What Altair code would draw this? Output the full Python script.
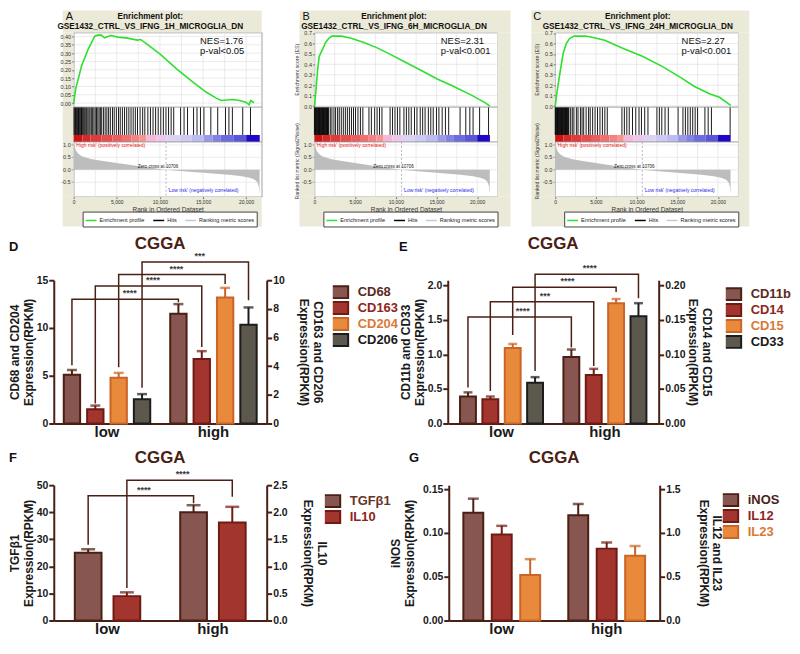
import altair as alt
import pandas as pd

FONT = "Liberation Sans"
BEIGE = "#ebe9d8"
GRID = "#dedede"
AX = "#4a2014"

# ---------------- GSEA data ----------------
rank_ticks = [0, 2500, 5000, 7500, 10000, 12500, 15000, 17500, 20000, 22500]
rk_ticks = [1.0, 0.5, 0.0, -0.5]
rk_labels = ["1.0", "0.5", "0.0", "-0.5"]
zero_cross = 10706
metric_rank = [0, 100, 300, 600, 1000, 2000, 3000, 4000, 5000, 6000, 7000, 8000, 9000, 10000,
               10706, 12000, 13500, 15000, 16500, 18000, 19500, 20500, 21000, 21300, 21450, 21550]
metric_val = [1.1, 0.95, 0.75, 0.62, 0.53, 0.43, 0.37, 0.32, 0.27, 0.22, 0.17, 0.13, 0.08, 0.03,
              0.0, -0.04, -0.08, -0.12, -0.16, -0.2, -0.26, -0.33, -0.4, -0.5, -0.65, -0.95]
seg_start = [0, 1000, 1960, 3200, 4510, 5600, 6670, 7600, 8430, 9600, 10780, 12350, 13700,
             15100, 16100, 17060, 18500, 20000]
seg_end = [1000, 1960, 3200, 4510, 5600, 6670, 7600, 8430, 9600, 10780, 12350, 13700, 15100,
           16100, 17060, 18500, 20000, 21570]
seg_color = ["#cc1414", "#d82828", "#e03a3a", "#e64c4c", "#ec5e5e", "#f07070", "#f48282", "#f69494",
             "#f4b8d8", "#eec6ea", "#dcd2f2", "#cccaf2", "#bcbcf0", "#9a9ae8", "#8282e4", "#6c6cde",
             "#5a56da", "#2008c8"]
legend_series = ["Enrichment profile", "Hits", "Ranking metric scores"]
legend_colors = ["#2ee02e", "#000000", "#c8c8c8"]

A_name = "GSE1432_CTRL_VS_IFNG_1H_MICROGLIA_DN"
A_stats = ["NES=1.76", "p-val<0.05"]
A_es_rank = [0, 250, 533, 914, 1295, 1676, 2057, 2438, 2819, 3200, 3581, 3960, 4343, 5105, 6248,
             7390, 7770, 8533, 10057, 11962, 13867, 15390, 16533, 17105, 18438, 19200, 19962,
             20343, 20533, 20914]
A_es_val = [0.0, 0.09, 0.145, 0.224, 0.273, 0.323, 0.362, 0.402, 0.408, 0.408, 0.392, 0.400, 0.406,
            0.396, 0.390, 0.378, 0.382, 0.352, 0.293, 0.204, 0.125, 0.065, 0.030, 0.016, 0.022,
            0.016, 0.006, -0.010, 0.016, 0.002]
A_hits = [40, 130, 220, 310, 400, 480, 560, 650, 740, 830, 910, 1000, 1100, 1200, 1300, 1420, 1520,
          1650, 1780, 1900, 2050, 2200, 2350, 2500, 2650, 2800, 2950, 3100, 3250, 3450, 3650, 3850,
          4050, 4250, 4500, 4700, 4950, 5200, 5400, 5650, 5900, 6150, 6400, 6650, 6900, 7150, 7400,
          7700, 8000, 8250, 8600, 8900, 9200, 9500, 9800, 10100, 10400, 10700, 11000, 11300, 11600,
          12400, 12800, 13200, 13900, 14300, 14700, 15100, 15900, 16700, 17600, 18000, 18400,
          19600, 20500]

B_name = "GSE1432_CTRL_VS_IFNG_6H_MICROGLIA_DN"
B_stats = ["NES=2.31", "p-val<0.001"]
B_es_rank = [0, 196, 392, 588, 784, 980, 1373, 1765, 2157, 2549, 3333, 4510, 6078, 7647, 9216,
             11176, 13137, 15098, 17059, 19412, 21000, 21569]
B_es_val = [0.0, 0.16, 0.35, 0.475, 0.51, 0.54, 0.61, 0.65, 0.67, 0.672, 0.67, 0.65, 0.61, 0.56,
            0.50, 0.42, 0.34, 0.26, 0.19, 0.10, 0.03, 0.0]
B_hits = [0, 70, 140, 210, 280, 350, 420, 490, 560, 630, 700, 770, 840, 910, 980, 1050, 1120, 1190,
          1260, 1330, 1400, 1470, 1540, 1610, 1680, 1750, 1950, 2150, 2400, 2600, 2850, 3050, 3300,
          3550, 3800, 4050, 4300, 4550, 4800, 5050, 5350, 5650, 5950, 6700, 7000, 7400, 7700, 8000,
          8300, 9300, 9600, 9900, 10200, 10500, 11000, 11300, 11600, 11900, 12300, 12600, 13000,
          13300, 13600, 14000, 14300, 14600, 15000, 15300, 15700, 16100, 16500, 17900, 18600,
          19100, 19500, 20300, 21400]

C_name = "GSE1432_CTRL_VS_IFNG_24H_MICROGLIA_DN"
C_stats = ["NES=2.27", "p-val<0.001"]
C_es_rank = [0, 250, 588, 980, 1373, 1765, 2353, 3725, 4510, 6078, 8431, 10784, 13137, 15490,
             17059, 19020, 20196, 21565]
C_es_val = [0.0, 0.15, 0.32, 0.506, 0.60, 0.647, 0.67, 0.672, 0.66, 0.63, 0.55, 0.475, 0.38, 0.27,
            0.19, 0.116, 0.084, 0.006]
C_hits = [0, 70, 140, 210, 280, 350, 420, 490, 560, 630, 700, 770, 840, 910, 980, 1050, 1120, 1190,
          1260, 1330, 1400, 1470, 1540, 1610, 1680, 1900, 2100, 2300, 2600, 2800, 3100, 3300, 3500,
          3800, 4100, 4300, 4600, 4900, 5200, 5500, 5800, 6100, 6400, 8200, 8500, 8800, 9100, 9500,
          9900, 10300, 10600, 11000, 11400, 12500, 12800, 13100, 13500, 13900, 15100, 15700, 16000,
          16300, 16600, 16900, 17200, 17500, 18400, 18800, 19200, 21500]

# ---------------- CGGA bar data ----------------
groups = ["low", "high"]

D_markers = ["CD68", "CD163", "CD204", "CD206"]
D_side = ["L", "R", "L", "R"]
D_low = [5.1, 1.0, 4.8, 1.7]
D_low_err = [0.5, 0.25, 0.5, 0.35]
D_high = [11.5, 4.5, 13.2, 6.9]
D_high_err = [1.0, 0.55, 1.0, 1.2]
D_br_low = [6.1, 2.1, 5.9, 3.75]
D_br_level = [13.0, 14.4, 15.6, 16.9]
D_br_high = [12.7, 8.0, 14.6, 12.9]
D_br_label = ["****", "****", "****", "***"]

E_markers = ["CD11b", "CD14", "CD15", "CD33"]
E_side = ["L", "R", "R", "L"]
E_low = [0.39, 0.035, 0.109, 0.59]
E_low_err = [0.06, 0.004, 0.006, 0.08]
E_high = [0.96, 0.070, 0.174, 1.55]
E_high_err = [0.11, 0.009, 0.006, 0.19]
E_br_low = [0.52, 0.47, 1.28, 0.76]
E_br_level = [1.54, 1.76, 1.97, 2.16]
E_br_high = [1.1, 0.83, 1.90, 1.81]
E_br_label = ["****", "***", "****", "****"]

F_markers = ["TGFβ1", "IL10"]
F_side = ["L", "R"]
F_low = [25.0, 0.45]
F_low_err = [1.3, 0.07]
F_high = [40.0, 1.81]
F_high_err = [2.6, 0.29]
F_br_low = [28.0, 12.0]
F_br_level = [46.1, 51.8]
F_br_high = [43.3, 45.7]
F_br_label = ["****", "****"]

G_markers = ["iNOS", "IL12", "IL23"]
G_side = ["L", "R", "R"]
G_low = [0.123, 0.98, 0.52]
G_low_err = [0.016, 0.10, 0.18]
G_high = [0.120, 0.82, 0.74]
G_high_err = [0.013, 0.07, 0.11]

FILL4 = ["#875650", "#a3352f", "#e8893c", "#5c584d"]
STROKE4 = ["#4b1f12", "#701a14", "#c96526", "#1c1c1c"]
LAB4 = ["#5a2a1c", "#8e2620", "#d97a35", "#1a1a1a"]

one = pd.DataFrame({"k": [0]})


def vtext(s, x, y, **kw):
    return alt.Chart(one).mark_text(text=s, **kw).encode(x=alt.value(x), y=alt.value(y))


def prect(x1, x2, y1, y2, **kw):
    return alt.Chart(one).mark_rect(**kw).encode(
        x=alt.value(x1), x2=alt.value(x2), y=alt.value(y1), y2=alt.value(y2))


def hline(x1, x2, y, **kw):
    return alt.Chart(one).mark_rule(**kw).encode(x=alt.value(x1), x2=alt.value(x2), y=alt.value(y))


def resolved(c):
    return c.resolve_scale(color="independent", stroke="independent", xOffset="independent")


def spacer(w):
    return prect(0, w, 0, 1, opacity=0).properties(width=w, height=1,
                                                   view=alt.ViewBackground(strokeWidth=0))


def gsea(letter, letter_x, title_x, name, stats, es_rank, es_val, hits, es_dom, es_ticks, es_fmt,
         width, x_max, box_l, box_r, ytitle):
    W, H = width, 165
    E1, HB, CB = 75, 103, 110
    xs = alt.Scale(domain=[0, x_max], nice=False, zero=False)
    tk = [t for t in rank_ticks if t <= x_max]
    XAX = alt.Axis(values=tk, format=",d", labelFontSize=5.0, labelColor="#333", tickSize=2,
                   tickColor="#777", domain=False, grid=False, zindex=1, labelPadding=1,
                   labelOverlap=False, labelFlush=False,
                   title="Rank in Ordered Dataset", titleFontSize=6.5, titleFontWeight="normal",
                   titleColor="#333", titlePadding=2)

    def X(f):
        return alt.X(f + ":Q", scale=xs, axis=XAX)

    lo, hi = es_dom
    es_s = alt.Scale(domain=[hi - (hi - lo) * H / E1, hi], nice=False, zero=False)
    ES_AX = alt.Axis(orient="left", values=es_ticks, format=es_fmt, labelFontSize=5.5,
                     labelColor="#333", tickSize=2, tickColor="#777", domain=False, grid=False,
                     zindex=1, labelPadding=1, labelOverlap=False, title=None)
    rlo, rhi = -1.08, 1.12
    rk_s = alt.Scale(domain=[rlo, rlo + (rhi - rlo) * H / (H - CB)], nice=False, zero=False)

    bgs = [prect(box_l, box_r, -22, 0, color=BEIGE), prect(box_l, 0, 0, H, color=BEIGE),
           prect(W, box_r, 0, H, color=BEIGE), prect(box_l, box_r, H, H + 30, color=BEIGE)]
    tkdf = pd.DataFrame({"t": tk})
    vg1 = alt.Chart(tkdf).mark_rule(color=GRID, strokeWidth=0.6).encode(
        x=X("t"), y=alt.value(0), y2=alt.value(E1))
    vg2 = alt.Chart(tkdf).mark_rule(color=GRID, strokeWidth=0.6).encode(
        x=X("t"), y=alt.value(CB), y2=alt.value(H))
    es_grid = alt.Chart(pd.DataFrame({"e": es_ticks})).mark_rule(color=GRID, strokeWidth=0.6).encode(
        y=alt.Y("e:Q", scale=es_s, axis=ES_AX), x=alt.value(0), x2=alt.value(W))
    es_line = alt.Chart(pd.DataFrame({"rank": es_rank, "es": es_val})).mark_line(
        color="#2ee02e", strokeWidth=1.6).encode(x=X("rank"), y=alt.Y("es:Q", scale=es_s, axis=ES_AX))
    es_group = alt.layer(es_grid, es_line)

    hits_l = alt.Chart(pd.DataFrame({"rank": hits})).mark_rule(color="#000", strokeWidth=0.9).encode(
        x=X("rank"), y=alt.value(E1), y2=alt.value(HB))
    cb = alt.Chart(pd.DataFrame({"a": seg_start, "b": seg_end, "c": seg_color})).mark_rect().encode(
        x=X("a"), x2="b:Q", y=alt.value(HB), y2=alt.value(CB), color=alt.Color("c:N", scale=None))

    rkdf = pd.DataFrame({"r": rk_ticks, "l": rk_labels})
    rk_grid = alt.Chart(rkdf).mark_rule(color=GRID, strokeWidth=0.6).encode(
        y=alt.Y("r:Q", scale=rk_s, axis=None), x=alt.value(0), x2=alt.value(W))
    rk_area = alt.Chart(pd.DataFrame({"rank": metric_rank, "m": metric_val})).mark_area(
        color="#bdbdbd").encode(x=X("rank"), y=alt.Y("m:Q", scale=rk_s, axis=None), y2=alt.datum(0))
    rk_lab = alt.Chart(rkdf).mark_text(align="right", baseline="middle", fontSize=5.5, color="#333",
                                       dx=-3).encode(
        x=alt.value(0), y=alt.Y("r:Q", scale=rk_s, axis=None), text="l:N")
    rk_tk = alt.Chart(rkdf).mark_rule(color="#777", strokeWidth=0.6).encode(
        x=alt.value(-2), x2=alt.value(0), y=alt.Y("r:Q", scale=rk_s, axis=None))
    zt = alt.Chart(one).mark_text(text="Zero cross at 10706", fontSize=4.6, color="#222",
                                   baseline="bottom", dx=-8, dy=-1).encode(
        x=alt.datum(zero_cross), y=alt.datum(0.0))
    ht = alt.Chart(one).mark_text(text="'High risk' (positively correlated)", fontSize=5,
                                   color="#e82020", align="left", baseline="middle").encode(
        x=alt.datum(200), y=alt.datum(1.0))
    lt = alt.Chart(one).mark_text(text="'Low risk' (negatively correlated)", fontSize=5,
                                   color="#2a2ae6", align="left", baseline="middle").encode(
        x=alt.datum(zero_cross + 200), y=alt.datum(-0.8))
    rk_group = alt.layer(rk_grid, rk_area, rk_lab, rk_tk, zt, ht, lt)

    zr = alt.Chart(pd.DataFrame({"rank": [zero_cross]})).mark_rule(
        color="#999", strokeDash=[2, 2], strokeWidth=0.7).encode(
        x=X("rank"), y=alt.value(CB), y2=alt.value(H))
    seps = [hline(0, W, E1, color="#8a8a8a", strokeWidth=0.8),
            hline(0, W, CB, color="#8a8a8a", strokeWidth=0.8)]
    texts = [
        vtext(letter, letter_x, -16, fontSize=11, align="left", baseline="middle", color="#111"),
        vtext("Enrichment plot:", title_x, -16, fontSize=8.3, fontWeight="bold", align="center",
              baseline="middle", color="#111"),
        vtext(name, title_x, -6, fontSize=8.3, fontWeight="bold", align="center", baseline="middle",
              color="#111"),
        vtext(stats[0], 127, 9, fontSize=9.5, align="left", baseline="middle", color="#111"),
        vtext(stats[1], 127, 19, fontSize=9.5, align="left", baseline="middle", color="#111"),
    ]
    if ytitle:
        texts += [vtext("Enrichment score (ES)", -18, E1 / 2, fontSize=5.2, angle=270, align="center",
                        baseline="middle", color="#333"),
                  vtext("Ranked list metric (Signal2Noise)", -18, (CB + H) / 2 - 8, fontSize=5.2,
                        angle=270, align="center", baseline="middle", color="#333")]
    leg = alt.Chart(pd.DataFrame({"s": legend_series})).mark_point(opacity=0).encode(
        x=alt.value(0), y=alt.value(0),
        color=alt.Color("s:N", sort=legend_series,
                        scale=alt.Scale(domain=legend_series, range=legend_colors),
                        legend=alt.Legend(orient="none", legendX=9, legendY=CB + 70,
                                          direction="horizontal", title=None, symbolType="stroke",
                                          symbolSize=120, symbolStrokeWidth=1.5, symbolOpacity=1,
                                          labelFontSize=5.6, labelColor="#222", columnPadding=5,
                                          labelOffset=2, strokeColor="#444", fillColor="white",
                                          padding=2)))
    return alt.layer(*bgs, vg1, vg2, es_group, hits_l, cb, rk_group, zr, *seps, *texts, leg
                     ).resolve_scale(y="independent").properties(
        width=W, height=H, view=alt.ViewBackground(fill="white", stroke="#8a8a8a", strokeWidth=0.8))


def bar_panel(letter, letter_x, title_y, markers, sides, low, low_err, high, high_err, fills,
              strokes, labcols, ldom, lticks, lfmt, ltitle, ltpad, rdom, rticks, rfmt, rtitle, rtpad,
              width, height, xpad, opad, cap, leg_x, leg_y, br_low, br_level, br_high, br_label,
              star_dx, ext):
    rows = []
    for i, m in enumerate(markers):
        rows.append({"group": "low", "marker": m, "side": sides[i], "value": low[i],
                     "hi": low[i] + low_err[i]})
        rows.append({"group": "high", "marker": m, "side": sides[i], "value": high[i],
                     "hi": high[i] + high_err[i]})
    df = pd.DataFrame(rows)
    X = alt.X("group:N", sort=groups,
              scale=alt.Scale(domain=groups, paddingInner=xpad[0], paddingOuter=xpad[1]),
              axis=alt.Axis(title=None, labelAngle=0, labelFontSize=15, labelFontWeight="bold",
                            labelColor="#1a1a1a", ticks=False, tickSize=0, domainColor=AX,
                            domainWidth=2, labelPadding=1))
    XO = alt.XOffset("marker:N", sort=markers,
                     scale=alt.Scale(domain=markers, paddingInner=opad[0], paddingOuter=opad[1]))
    expr = " : ".join(f"datum.label === '{m}' ? '{c}'" for m, c in zip(markers, labcols)) + " : '#111'"
    leg = alt.Legend(orient="none", legendX=leg_x, legendY=leg_y, title=None, labelFontSize=13,
                     labelFontWeight="bold", labelColor=alt.ExprRef(expr=expr),
                     symbolType="M-1.4,-1H1.4V1H-1.4Z", symbolSize=144, symbolStrokeWidth=2,
                     rowPadding=0, clipHeight=16, labelOffset=11)
    COL = alt.Color("marker:N", sort=markers, scale=alt.Scale(domain=markers, range=fills), legend=leg)
    STK = alt.Stroke("marker:N", sort=markers, scale=alt.Scale(domain=markers, range=strokes),
                     legend=leg)

    def yax(orient, ticks, fmt, title, tpad):
        return alt.Axis(orient=orient, values=ticks, format=fmt, title=title, labelFontSize=10.5,
                        labelFontWeight="bold", labelColor="#1a1a1a", domainColor=AX, domainWidth=2,
                        tickColor=AX, tickWidth=2, tickSize=5, grid=False, titleFontSize=12,
                        titleFontWeight="bold", titleColor="#1a1a1a", titlePadding=tpad,
                        titleLineHeight=14, labelPadding=1)

    def group_layers(data, dom, ax):
        ys = alt.Scale(domain=dom, nice=False, zero=True)
        bars = alt.Chart(data).mark_bar(strokeWidth=2).encode(
            x=X, xOffset=XO, y=alt.Y("value:Q", scale=ys, axis=ax), color=COL, stroke=STK)
        err = alt.Chart(data).mark_rule(strokeWidth=2).encode(
            x=X, xOffset=XO, y=alt.Y("value:Q", scale=ys, axis=ax), y2="hi:Q", stroke=STK)
        capm = alt.Chart(data).mark_tick(filled=False, thickness=0.5, size=cap, strokeWidth=2).encode(
            x=X, xOffset=XO, y=alt.Y("hi:Q", scale=ys, axis=ax), stroke=STK)
        return ys, [bars, err, capm]

    axL = yax("left", lticks, lfmt, ltitle, ltpad)
    axR = yax("right", rticks, rfmt, rtitle, rtpad)
    ysL, left = group_layers(df[df.side == "L"], ldom, axL)
    _, right = group_layers(df[df.side == "R"], rdom, axR)

    if br_level:
        br_rows = []
        for i, m in enumerate(markers):
            pts = [("low", br_low[i]), ("low", br_level[i]), ("high", br_level[i]), ("high", br_high[i])]
            for o, (g, v) in enumerate(pts):
                br_rows.append({"group": g, "marker": m, "v": v, "o": o, "b": i})
        brl = alt.Chart(pd.DataFrame(br_rows)).mark_line(color=AX, strokeWidth=1.5).encode(
            x=X, xOffset=XO, y=alt.Y("v:Q", scale=ysL, axis=axL), detail="b:N", order="o:Q")
        st = pd.DataFrame({"group": ["low"] * len(markers), "marker": markers, "v": br_level,
                           "lab": br_label})
        stars = alt.Chart(st).mark_text(dx=star_dx, dy=-1, baseline="bottom", fontSize=9,
                                        fontWeight="bold", color="#3a3a3a").encode(
            x=X, xOffset=XO, y=alt.Y("v:Q", scale=ysL, axis=axL), text="lab:N")
        left = left + [brl, stars]

    frame = prect(ext[0], width, ext[1], ext[2], opacity=0)
    t1 = vtext("CGGA", width / 2, title_y, fontSize=17, fontWeight="bold", color=AX,
               align="center", baseline="middle")
    t2 = vtext(letter, letter_x, title_y + 3 if title_y < -30 else title_y, fontSize=13,
               fontWeight="bold", color="#111", align="left", baseline="middle")
    return alt.layer(frame, alt.layer(*left), alt.layer(*right), t1, t2).resolve_scale(
        y="independent").properties(width=width, height=height,
                                    view=alt.ViewBackground(strokeWidth=0))


A = gsea("A", -8, 77, A_name, A_stats, A_es_rank, A_es_val, A_hits, [-0.024, 0.424],
         [0, 0.05, 0.1, 0.15, 0.2, 0.25, 0.3, 0.35, 0.4], ".2f", 189, 21800, -11, 189, False)
B = gsea("B", -12, 80, B_name, B_stats, B_es_rank, B_es_val, B_hits, [-0.01, 0.705],
         [0, 0.1, 0.2, 0.3, 0.4, 0.5, 0.6, 0.7], ".1f", 184, 22500, -15, 197, True)
C = gsea("C", -22, 83, C_name, C_stats, C_es_rank, C_es_val, C_hits, [-0.01, 0.705],
         [0, 0.1, 0.2, 0.3, 0.4, 0.5, 0.6, 0.7], ".1f", 184, 22500, -24, 195, True)

D = bar_panel("D", -45, -36, D_markers, D_side, D_low, D_low_err, D_high, D_high_err, FILL4, STROKE4,
              LAB4, [0, 15], [0, 5, 10, 15], "d", ["CD68 and CD204", "Expression(RPKM)"], 1,
              [0, 10], [0, 2, 4, 6, 8, 10], "d", ["CD163 and CD206", "Expression(RPKM)"], 12,
              214, 144, (0.1, 0.05), (0.3, 0.2), 8, 280.5, 4,
              D_br_low, D_br_level, D_br_high, D_br_label, 58, (-45, -53, 170))
E = bar_panel("E", -49, -36, E_markers, E_side, E_low, E_low_err, E_high, E_high_err, FILL4, STROKE4,
              LAB4, [0, 2.072], [0, 0.5, 1.0, 1.5, 2.0], ".1f", ["CD11b and CD33", "Expression(RPKM)"],
              1, [0, 0.2072], [0, 0.05, 0.1, 0.15, 0.2], ".2f", ["CD14 and CD15", "Expression(RPKM)"],
              1, 212, 144, (0.1, 0.07), (0.29, 0.225), 7, 279.5, 6,
              E_br_low, E_br_level, E_br_high, E_br_label, 55, (0, -53, 170))
F = bar_panel("F", -45, -27, F_markers, F_side, F_low, F_low_err, F_high, F_high_err, FILL4[:2],
              STROKE4[:2], ["#6b3326", "#8e2620"], [0, 50], [0, 10, 20, 30, 40, 50], "d",
              ["TGFβ1", "Expression(RPKM)"], 1, [0, 2.5], [0, 0.5, 1.0, 1.5, 2.0, 2.5], ".1f",
              ["IL10", "Expression(RPKM)"], 13, 214, 136, (0.1, 0.06), (0.31, 0.38), 12, 272.5, 8,
              F_br_low, F_br_level, F_br_high, F_br_label, 56, (-45, -36, 100))
G = bar_panel("G", -40, -27, G_markers, G_side, G_low, G_low_err, G_high, G_high_err, FILL4[:3],
              STROKE4[:3], ["#4a2418", "#8e2620", "#d97a35"], [0, 0.1544], [0, 0.05, 0.1, 0.15],
              ".2f", ["iNOS", "Expression(RPKM)"], 6, [0, 1.544], [0, 0.5, 1.0, 1.5], ".1f",
              ["IL12 and IL23", "Expression(RPKM)"], 16, 212, 136, (0.1, 0.055), (0.3, 0.31), 9,
              275.5, 7, [], [], [], [], 0, (0, -36, 100))

top = resolved(alt.hconcat(spacer(20), A, spacer(53), B, spacer(58), C, spacing=0, bounds="flush"))
mid = resolved(alt.hconcat(D, E, spacing=182, bounds="flush"))
bot = resolved(alt.hconcat(F, G, spacing=183, bounds="flush"))
chart = resolved(alt.vconcat(top, mid, bot, spacing=0)).properties(
    padding=0, background="white").configure(font=FONT).configure_view(strokeWidth=0)

chart.save("out.html", embed_options={"renderer": "svg", "actions": False})
